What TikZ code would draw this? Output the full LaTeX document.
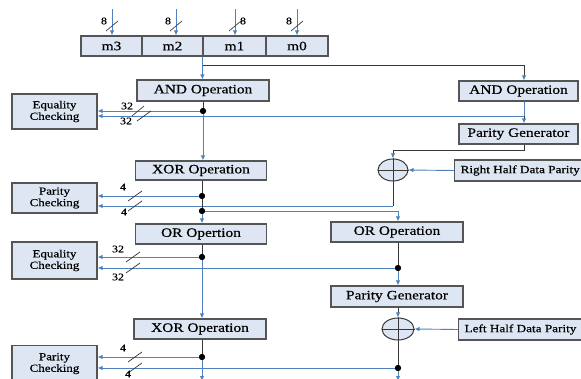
\documentclass[tikz,border=0pt]{standalone}
\usepackage{fontspec}
\setmainfont{Liberation Serif}[FakeStretch=1.2,FakeBold=0.5]
\usetikzlibrary{arrows.meta,shapes.geometric,calc}
\definecolor{boxfill}{RGB}{221,230,242}
\definecolor{boxdraw}{RGB}{85,85,85}
\definecolor{lineblue}{RGB}{79,129,189}
\definecolor{darkline}{RGB}{55,55,55}
\tikzset{
  box/.style={draw=boxdraw, fill=boxfill, line width=1.2pt, inner sep=0pt,
    font=\fontsize{12.8}{13}\selectfont},
  sbox/.style={draw=boxdraw, fill=boxfill, line width=1.2pt, inner sep=0pt, align=center,
    font=\fontsize{10.8}{11.5}\selectfont},
  lbox/.style={draw=boxdraw, fill=boxfill, line width=1.2pt, inner xsep=6pt, inner ysep=0pt,
    font=\fontsize{11}{11}\selectfont},
  conn/.style={draw=lineblue, line width=0.9pt},
  dconn/.style={draw=darkline, line width=0.9pt},
  arr/.style={conn, -{Latex[length=5pt,width=4.5pt,color=lineblue]}},
  darr/.style={dconn, -{Latex[length=5pt,width=4.5pt,color=lineblue]}},
  dot/.style={circle, fill=black, inner sep=0pt, minimum size=6pt},
  xorc/.style={ellipse, draw=darkline, fill=boxfill, line width=1pt, inner sep=0pt},
  tick/.style={draw=darkline, line width=0.7pt},
  lab/.style={font=\fontsize{10}{10}\selectfont, inner sep=0pt}
}
\begin{document}
\begin{tikzpicture}[x=1pt,y=-1pt]
\clip (0,0) rectangle (581,379);
\useasboundingbox (0,0) rectangle (581,379);
% register
\node[box, minimum width=61pt, minimum height=20pt] (m3) at (111.5,46) {m3};
\node[box, minimum width=61pt, minimum height=20pt] (m2) at (172.5,46) {m2};
\node[box, minimum width=63pt, minimum height=20pt] (m1) at (234.5,46) {m1};
\node[box, minimum width=62pt, minimum height=20pt] (m0) at (297,46) {m0};
% inputs
\coordinate (i3) at (112,9);
\coordinate (i2) at (176,9);
\coordinate (i1) at (235,9);
\coordinate (i0) at (297,9);
\draw[arr] (i3) -- (i3 |- m3.north);
\draw[arr] (i2) -- (i2 |- m2.north);
\draw[arr] (i1) -- (i1 |- m1.north);
\draw[arr] (i0) -- (i0 |- m0.north);
\foreach \x in {112,176,235,297} {\draw[tick] (\x,26) ++(-6,5) -- ++(12,-10);}
\node[lab] (l3) at (104,21) {8};
\node[lab] (l2) at (168,21) {8};
\node[lab] (l1) at (243,21) {8};
\node[lab] (l0) at (289,21) {8};
% boxes
\node[box, minimum width=132pt, minimum height=21pt] (and1) at (203,90.5) {AND Operation};
\node[box, minimum width=119pt, minimum height=20pt] (and2) at (518.5,91) {AND Operation};
\node[box, minimum width=119pt, minimum height=20pt] (pg1) at (518.5,134) {Parity Generator};
\node[box, minimum width=131pt, minimum height=19pt] (xor1) at (201,170.5) {XOR Operation};
\node[box, minimum width=131pt, minimum height=20pt] (or1) at (201,234) {OR Opertion};
\node[box, minimum width=132pt, minimum height=20pt] (or2) at (397,232) {OR Operation};
\node[box, minimum width=132pt, minimum height=21pt] (pg2) at (397,296.5) {Parity Generator};
\node[box, minimum width=132pt, minimum height=20pt] (xor2) at (200,329) {XOR Operation};
\node[sbox, minimum width=85pt, minimum height=35pt] (eq1) at (54.5,111.5) {Equality\\Checking};
\node[sbox, minimum width=85pt, minimum height=30pt] (pc1) at (54.5,198) {Parity\\Checking};
\node[sbox, minimum width=85pt, minimum height=37pt] (eq2) at (54.5,260.5) {Equality\\Checking};
\node[sbox, minimum width=85pt, minimum height=36pt, anchor=north] (pc2) at (54.5,345) {Parity\\Checking};
\node[lbox, anchor=west, minimum height=21pt] (rh) at (454,170.5) {Right Half Data Parity};
\node[lbox, anchor=west, minimum height=21pt] (lh) at (458,329.5) {Left Half Data Parity};
\node[xorc, minimum width=30pt, minimum height=22pt] (c1) at (393,170) {};
\node[xorc, minimum width=32pt, minimum height=22pt] (c2) at (398,329) {};
% junctions
\coordinate (j0) at (203,65);
\coordinate (j0r) at (524,65);
\node[dot] (d1) at (203,111) {};
\coordinate (j1) at (524,116);
\coordinate (k1) at (524,150);
\coordinate (k2) at (393,150);
\coordinate (k3) at (393,206);
\node[dot] (d2) at (202,196) {};
\node[dot] (d3) at (202,211) {};
\coordinate (k4) at (398,211);
\node[dot] (d4) at (202,257) {};
\node[dot] (d6) at (398,268) {};
\node[dot] (d5) at (202,357) {};
\node[dot] (d7) at (398,368) {};
\coordinate (e1) at (202,381);
\coordinate (e2) at (398,381);
% connectors
\draw[arr] (m1.south west) -- (and1.north -| m1.south west);
\draw[dconn] (j0) -- (j0r);
\draw[darr] (j0r) -- (j0r |- and2.north);
\draw[dconn] (and1.south -| d1) -- (d1);
\draw[arr] (d1) -- (d1 |- xor1.north);
\draw[arr] (d1) -- (d1 -| eq1.east);
\draw[conn] (and2.south -| j1) -- (j1);
\draw[darr] (j1) -- (j1 |- pg1.north);
\draw[arr] (j1) -- (j1 -| eq1.east);
\draw[darr] (pg1.south -| k1) -- (k1) -- (k2) -- (c1.north);
\draw[arr] (rh.west) -- (c1.east);
\draw[dconn] (c1.north) -- (c1.south);
\draw[dconn] (c1.west) -- (c1.east);
\draw[dconn] (c1.south) -- (k3);
\draw[arr] (k3) -- (k3 -| pc1.east);
\draw[dconn] (xor1.south -| d2) -- (d2) -- (d3);
\draw[arr] (d2) -- (d2 -| pc1.east);
\draw[arr] (d3) -- (d3 |- or1.north);
\draw[conn] (d3) -- (k4);
\draw[arr] (k4) -- (k4 |- or2.north);
\draw[dconn] (or1.south -| d4) -- (d4);
\draw[arr] (d4) -- (d4 |- xor2.north);
\draw[arr] (d4) -- (d4 -| eq2.east);
\draw[dconn] (or2.south -| d6) -- (d6);
\draw[arr] (d6) -- (d6 |- pg2.north);
\draw[arr] (d6) -- (d6 -| eq2.east);
\draw[darr] (pg2.south -| c2.north) -- (c2.north);
\draw[arr] (lh.west) -- (c2.east);
\draw[dconn] (c2.north) -- (c2.south);
\draw[dconn] (c2.west) -- (c2.east);
\draw[dconn] (c2.south) -- (d7);
\draw[arr] (d7) -- (e2);
\draw[arr] (d7) -- (d7 -| pc2.east);
\draw[dconn] (xor2.south -| d5) -- (d5);
\draw[arr] (d5) -- (e1);
\draw[arr] (d5) -- (d5 -| pc2.east);
% dots on top
\foreach \d in {d1,d2,d3,d4,d5,d6,d7} {\fill (\d) circle (3pt);}
% bus width ticks and labels
\draw[tick] (138,111) ++(-6,5) -- ++(12,-10);
\draw[tick] (144,116) ++(-7,5) -- ++(14,-10);
\node[lab] (w1) at (127,106) {32};
\node[lab] (w2) at (126,121) {32};
\draw[tick] (135,196) ++(-7,5) -- ++(14,-10);
\draw[tick] (135,206) ++(-7,5) -- ++(14,-10);
\node[lab] (w3) at (123,187) {4};
\node[lab] (w4) at (124,212) {4};
\draw[tick] (133,257) ++(-7,5) -- ++(14,-10);
\draw[tick] (133,268) ++(-7,5) -- ++(14,-10);
\node[lab] (w5) at (118,249) {32};
\node[lab] (w6) at (118,277) {32};
\draw[tick] (135,357) ++(-7,5) -- ++(14,-10);
\draw[tick] (135,368) ++(-7,5) -- ++(14,-10);
\node[lab] (w7) at (123,348) {4};
\node[lab] (w8) at (128,374) {4};
\end{tikzpicture}
\end{document}
